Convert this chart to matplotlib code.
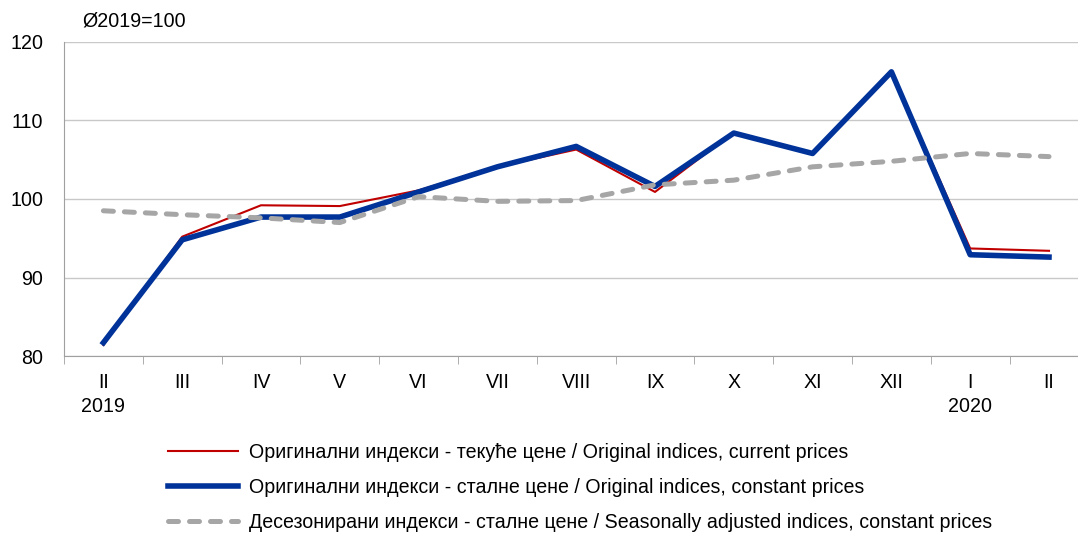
import matplotlib.pyplot as plt
import numpy as np

plt.rcParams['font.family'] = ['Liberation Sans', 'DejaVu Sans']

months = ['II\n2019', 'III', 'IV', 'V', 'VI', 'VII', 'VIII', 'IX', 'X', 'XI', 'XII', 'I\n2020', 'II']
current = [81.4, 95.2, 99.2, 99.1, 101.1, 104.1, 106.3, 100.9, 108.5, 105.8, 116.2, 93.7, 93.4]
constant = [81.7, 94.8, 97.7, 97.7, 100.9, 104.1, 106.7, 101.6, 108.4, 105.8, 116.2, 92.9, 92.6]
seasonal = [98.5, 98.0, 97.6, 97.0, 100.3, 99.7, 99.8, 101.8, 102.4, 104.1, 104.8, 105.8, 105.4]

labels = ['Оригинални индекси - текуће цене / Original indices, current prices',
          'Оригинални индекси - сталне цене / Original indices, constant prices',
          'Десезонирани индекси - сталне цене / Seasonally adjusted indices, constant prices']

fs = 14.1
fig = plt.figure(figsize=(10.78, 5.33), dpi=100)
ax = fig.add_axes([64 / 1078, 1 - 356 / 533, 1 - 64 / 1078, (356 - 42) / 533])

x = np.arange(len(months))
l1, = ax.plot(x, current, color='#C00000', lw=1.5, zorder=3)
l2, = ax.plot(x, constant, color='#003399', lw=4, zorder=4)
l3, = ax.plot(x, seasonal, color='#A6A6A6', lw=3.6, zorder=5, dashes=(2.0, 2.2),
              dash_capstyle='round')

ax.set_yticks([80, 90, 100, 110, 120])
ax.set_xticks(x)
ax.set_xticklabels(months, linespacing=1.3)
ax.set_xticks(np.arange(-0.5, 13, 1), minor=True)
# limits after the ticks, so the minor ticks do not widen the view
ax.set_ylim(80, 120)
ax.set_xlim(-0.5, (1078 - 64) / 78.8 - 0.5)
ax.tick_params(axis='x', which='major', length=0, pad=12.5, labelsize=fs)
ax.tick_params(axis='x', which='minor', length=6, color='#A0A0A0', direction='out')
ax.tick_params(axis='y', length=0, labelsize=fs, pad=15)

ax.grid(axis='y', color='#C8C8C8', lw=1)
for s in ['top', 'right']:
    ax.spines[s].set_visible(False)
for s in ['left', 'bottom']:
    ax.spines[s].set_color('#A0A0A0')
ax.set_axisbelow(True)

fig.text(82 / 1078, 1 - 21 / 533, 'Ø2019=100', fontsize=fs, va='center', ha='left')

fig.legend([l1, l2, l3], labels, loc='upper left', bbox_to_anchor=(150 / 1078, 1 - 425 / 533),
           frameon=False, fontsize=fs, handlelength=3.6, handletextpad=0.55,
           labelspacing=0.83)

fig.savefig('out.png', dpi=100)
